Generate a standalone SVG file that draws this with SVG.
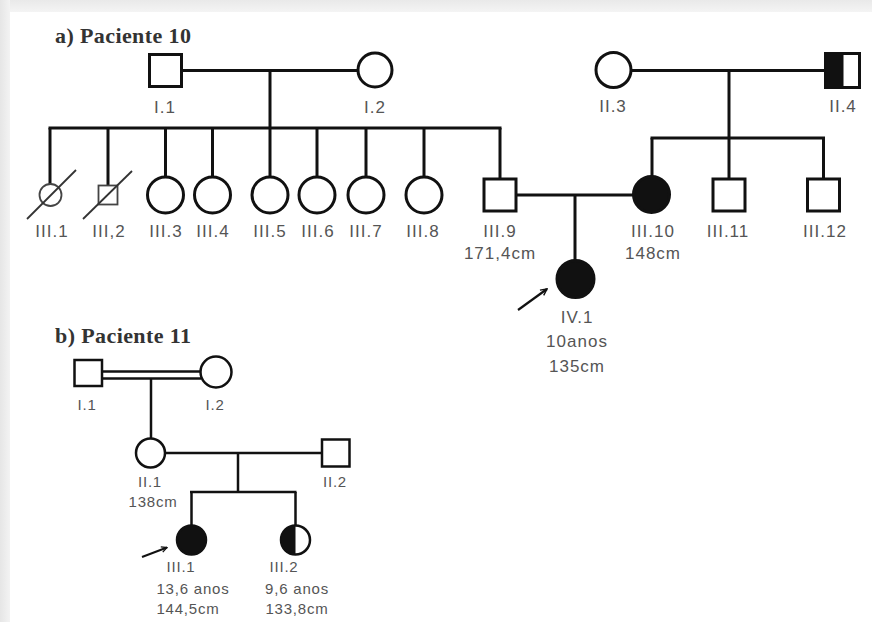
<svg xmlns="http://www.w3.org/2000/svg" width="872" height="622" viewBox="0 0 872 622">
<defs>
<linearGradient id="gTop" x1="0" y1="0" x2="0" y2="1"><stop offset="0" stop-color="#e9e9e9"/><stop offset="1" stop-color="#f4f4f4"/></linearGradient>
<linearGradient id="gLeft" x1="0" y1="0" x2="1" y2="0"><stop offset="0" stop-color="#e6e6e6"/><stop offset="1" stop-color="#f3f3f3"/></linearGradient>
<marker id="arr" viewBox="0 0 10 10" refX="9" refY="5" markerWidth="8" markerHeight="8" markerUnits="userSpaceOnUse" orient="auto">
<path d="M1,1 L9,5 L1,9" fill="none" stroke="#111" stroke-width="1.8"/>
</marker>
<marker id="arrB" viewBox="0 0 10 10" refX="9" refY="5" markerWidth="7" markerHeight="7" markerUnits="userSpaceOnUse" orient="auto">
<path d="M1,1 L9,5 L1,9" fill="none" stroke="#111" stroke-width="1.8"/>
</marker>
</defs>
<style>
.sa{fill:#fff;stroke:#111;stroke-width:3}
.sb{fill:#fff;stroke:#111;stroke-width:2.5}
.fa{fill:#111;stroke:#111;stroke-width:3}
.fb{fill:#111;stroke:#111;stroke-width:2.5}
.dead{fill:#fff;stroke:#444;stroke-width:1.8}
.ln{fill:none;stroke:#111;stroke-width:3}
.lnb{fill:none;stroke:#111;stroke-width:2.5}
.slash{stroke:#333;stroke-width:1.8}
.la{font-family:"Liberation Sans",Arial,sans-serif;font-size:17px;letter-spacing:1px;fill:#555;text-anchor:middle}
.lb{font-family:"Liberation Sans",Arial,sans-serif;font-size:15px;letter-spacing:0.8px;fill:#555;text-anchor:middle}
.title{font-family:"Liberation Serif","Times New Roman",serif;font-size:22px;font-weight:bold;letter-spacing:0.4px;fill:#333}
</style>
<rect x="0" y="0" width="872" height="622" fill="#fff"/>
<rect x="0" y="0" width="872" height="12" fill="url(#gTop)"/>
<rect x="0" y="0" width="10" height="622" fill="url(#gLeft)"/>

<text class="title" x="55" y="43">a) Paciente 10</text>
<text class="title" x="55" y="343">b) Paciente 11</text>

<g id="connectors">
<line class="ln" x1="181" y1="70.5" x2="358" y2="70.5"/>
<line class="ln" x1="270" y1="70.5" x2="270" y2="128"/>
<line class="ln" x1="48.5" y1="128" x2="501.5" y2="128"/>
<line class="ln" x1="50" y1="128" x2="50" y2="184"/>
<line class="ln" x1="108" y1="128" x2="108" y2="186"/>
<line class="ln" x1="165.5" y1="128" x2="165.5" y2="177"/>
<line class="ln" x1="212.5" y1="128" x2="212.5" y2="177"/>
<line class="ln" x1="270" y1="128" x2="270" y2="177"/>
<line class="ln" x1="317" y1="128" x2="317" y2="177"/>
<line class="ln" x1="366" y1="128" x2="366" y2="177"/>
<line class="ln" x1="424" y1="128" x2="424" y2="177"/>
<line class="ln" x1="500" y1="128" x2="500" y2="179"/>
<line class="ln" x1="631" y1="70.5" x2="825" y2="70.5"/>
<line class="ln" x1="729" y1="70.5" x2="729" y2="179"/>
<line class="ln" x1="650.5" y1="138" x2="825" y2="138"/>
<line class="ln" x1="652" y1="138" x2="652" y2="176"/>
<line class="ln" x1="823.5" y1="138" x2="823.5" y2="179"/>
<line class="ln" x1="516" y1="195" x2="633" y2="195"/>
<line class="ln" x1="575" y1="195" x2="575" y2="261"/>
<line x1="518" y1="310" x2="547" y2="289" stroke="#111" stroke-width="2.2" marker-end="url(#arr)"/>
<line class="lnb" x1="102" y1="371.5" x2="201" y2="371.5"/>
<line class="lnb" x1="102" y1="378.5" x2="201" y2="378.5"/>
<line class="lnb" x1="151" y1="378.5" x2="151" y2="438"/>
<line class="lnb" x1="165.5" y1="453" x2="322" y2="453"/>
<line class="lnb" x1="238" y1="453" x2="238" y2="492"/>
<line class="lnb" x1="190" y1="492" x2="296.5" y2="492"/>
<line class="lnb" x1="191.5" y1="492" x2="191.5" y2="525"/>
<line class="lnb" x1="295.5" y1="492" x2="295.5" y2="525"/>
<line x1="142" y1="557" x2="167" y2="547.5" stroke="#111" stroke-width="2" marker-end="url(#arrB)"/>
</g>

<g id="a-I1"><rect class="sa" x="149.5" y="54.5" width="32" height="32"/><text class="la" x="165" y="113">I.1</text></g>
<g id="a-I2"><circle class="sa" cx="375" cy="70" r="17"/><text class="la" x="375" y="113">I.2</text></g>
<g id="a-II3"><circle class="sa" cx="613.5" cy="70" r="17.5"/><text class="la" x="613" y="112">II.3</text></g>
<g id="a-II4"><rect class="sa" x="825.5" y="53.5" width="34" height="34"/><rect x="825.5" y="53.5" width="18" height="34" fill="#111"/><text class="la" x="843" y="112">II.4</text></g>

<g id="a-III1"><circle class="dead" cx="50.5" cy="195" r="11"/><line class="slash" x1="27" y1="219" x2="76" y2="170"/><text class="la" x="52" y="237">III.1</text></g>
<g id="a-III2"><rect class="dead" x="98.5" y="185.5" width="19" height="19"/><line class="slash" x1="83" y1="219" x2="132" y2="171"/><text class="la" x="109" y="237">III,2</text></g>
<g id="a-III3"><circle class="sa" cx="165.5" cy="195" r="18"/><text class="la" x="166" y="237">III.3</text></g>
<g id="a-III4"><circle class="sa" cx="212.5" cy="195" r="18"/><text class="la" x="213" y="237">III.4</text></g>
<g id="a-III5"><circle class="sa" cx="270" cy="195" r="18"/><text class="la" x="270" y="237">III.5</text></g>
<g id="a-III6"><circle class="sa" cx="317" cy="195" r="18"/><text class="la" x="318" y="237">III.6</text></g>
<g id="a-III7"><circle class="sa" cx="366" cy="195" r="18"/><text class="la" x="366" y="237">III.7</text></g>
<g id="a-III8"><circle class="sa" cx="424" cy="195" r="18"/><text class="la" x="423" y="237">III.8</text></g>
<g id="a-III9"><rect class="sa" x="484" y="179" width="32" height="32"/><text class="la" x="500" y="237">III.9</text><text class="la" x="500" y="259">171,4cm</text></g>
<g id="a-III10"><circle class="fa" cx="651.5" cy="194.5" r="18"/><text class="la" x="653" y="237">III.10</text><text class="la" x="653" y="259">148cm</text></g>
<g id="a-III11"><rect class="sa" x="713" y="179" width="32" height="32"/><text class="la" x="728" y="237">III.11</text></g>
<g id="a-III12"><rect class="sa" x="807.5" y="179" width="32" height="32"/><text class="la" x="825" y="237">III.12</text></g>
<g id="a-IV1"><circle class="fa" cx="575.5" cy="279" r="18.5"/><text class="la" x="577" y="323">IV.1</text><text class="la" x="577" y="347">10anos</text><text class="la" x="577" y="372">135cm</text></g>

<g id="b-I1"><rect class="sb" x="74.5" y="360" width="27.5" height="26"/><text class="lb" x="87" y="410">I.1</text></g>
<g id="b-I2"><circle class="sb" cx="216" cy="372" r="15.5"/><text class="lb" x="215" y="410">I.2</text></g>
<g id="b-II1"><circle class="sb" cx="150.5" cy="453" r="14.5"/><text class="lb" x="150" y="487">II.1</text><text class="lb" x="153" y="507">138cm</text></g>
<g id="b-II2"><rect class="sb" x="322" y="439.5" width="27.5" height="27"/><text class="lb" x="335" y="487">II.2</text></g>
<g id="b-III1"><circle class="fb" cx="191.5" cy="540" r="14.5"/><text class="lb" x="181" y="572">III.1</text><text class="lb" x="193" y="594">13,6 anos</text><text class="lb" x="188" y="614">144,5cm</text></g>
<g id="b-III2"><circle class="sb" cx="295.5" cy="540" r="14.5"/><path d="M295.5,525.5 A14.5,14.5 0 0 0 295.5,554.5 Z" fill="#111"/><text class="lb" x="284" y="572">III.2</text><text class="lb" x="297" y="594">9,6 anos</text><text class="lb" x="297" y="614">133,8cm</text></g>
</svg>
